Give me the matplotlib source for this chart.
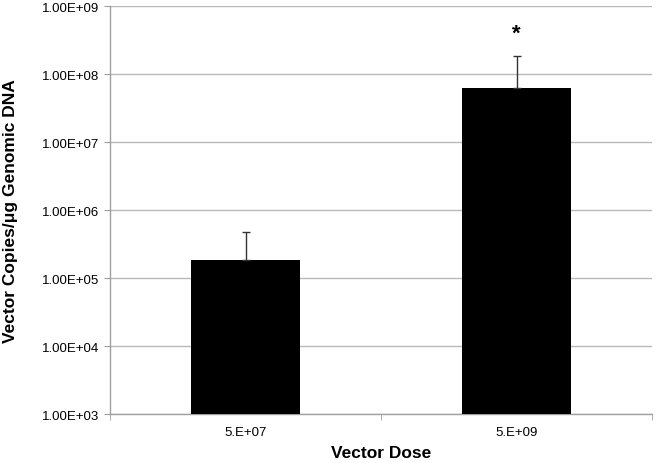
import matplotlib
matplotlib.use("Agg")
import matplotlib.pyplot as plt
import numpy as np

plt.rcParams['font.family'] = ['Liberation Sans', 'DejaVu Sans']

categories = ["5.E+07", "5.E+09"]
values = [1.84e5, 6.2e7]
err_upper = [4.8e5, 1.82e8]
y_ticks = [1e3, 1e4, 1e5, 1e6, 1e7, 1e8, 1e9]
y_tick_labels = ["1.00E+03", "1.00E+04", "1.00E+05", "1.00E+06", "1.00E+07", "1.00E+08", "1.00E+09"]
sig_marks = ["", "*"]

fig = plt.figure(figsize=(6.56, 4.64), dpi=100)
ax = fig.add_axes([110/656, 49/464, 542/656, 408/464])

x = np.arange(len(categories))
yerr = [np.zeros(len(values)), np.array(err_upper) - np.array(values)]
ax.bar(x, values, width=0.4, color='black', zorder=3, bottom=0)
ax.errorbar(x, values, yerr=yerr, fmt='none', ecolor='#333333', elinewidth=1.0,
            capsize=2.9, capthick=1.0, zorder=4)

ax.set_yscale('log')
ax.set_ylim(1e3, 1e9)
ax.set_xlim(-0.5, len(categories) - 0.5)
ax.set_yticks(y_ticks)
ax.set_yticklabels(y_tick_labels)
ax.yaxis.set_minor_locator(matplotlib.ticker.NullLocator())
ax.set_xticks(x)
ax.set_xticklabels(categories)
ax.set_xticks(np.arange(-0.5, len(categories), 1.0), minor=True)
ax.tick_params(axis='x', which='major', length=0, labelsize=9.5, pad=8.5)
ax.tick_params(axis='x', which='minor', length=4, color='#a0a0a0', direction='out')
ax.tick_params(axis='y', which='major', length=4, color='#a0a0a0', labelsize=9.5, pad=4)

ax.grid(axis='y', color='#b8b8b8', linewidth=1.0, zorder=0)
ax.set_axisbelow(True)
for s in ['top', 'right']:
    ax.spines[s].set_visible(False)
for s in ['left', 'bottom']:
    ax.spines[s].set_color('#a0a0a0')
    ax.spines[s].set_linewidth(1.0)

for xi, (m, top) in enumerate(zip(sig_marks, err_upper)):
    if m:
        ax.text(xi, top * 2.2, m, ha='center', va='center', fontsize=16, fontweight='bold')

ax.set_xlabel("Vector Dose", fontsize=12.5, fontweight='bold', labelpad=5)
ax.set_ylabel("Vector Copies/μg Genomic DNA", fontsize=12.5, fontweight='bold', labelpad=17)

fig.savefig("out.png", dpi=100)
